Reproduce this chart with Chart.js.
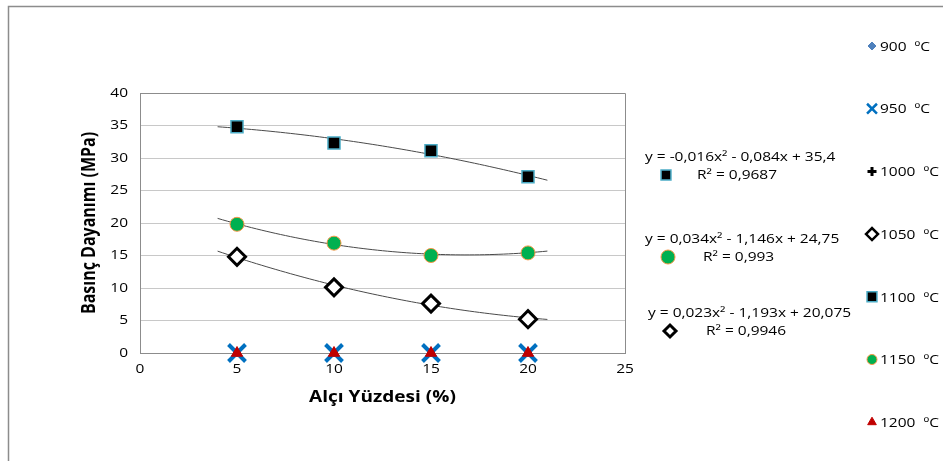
<!DOCTYPE html>
<html>
<head>
<meta charset="utf-8">
<script src="https://cdn.jsdelivr.net/npm/chart.js@4.4.1/dist/chart.umd.min.js"></script>
<style>
  html, body { margin: 0; padding: 0; background: #fff; }
  #wrap { width: 943px; height: 461px; }
</style>
</head>
<body>
<div id="wrap"><canvas id="c" width="943" height="461"></canvas></div>
<script>
// Gypsum percentage (x) and compressive strength (MPa) per firing temperature
const alciYuzdesi = [5, 10, 15, 20];
const seriesNames = ['900  ºC', '950  ºC', '1000  ºC', '1050  ºC', '1100  ºC', '1150  ºC', '1200  ºC'];
const s900  = [0, 0, 0, 0];
const s950  = [0, 0, 0, 0];
const s1000 = [0, 0, 0, 0];
const s1050 = [14.8, 10.1, 7.6, 5.2];
const s1100 = [34.8, 32.3, 31.1, 27.1];
const s1150 = [19.8, 16.9, 15.0, 15.4];
const s1200 = [0, 0, 0, 0];

// Polynomial trendline coefficients [a, b, c] for y = a x² + b x + c, and R²
const trend1100 = [-0.016, -0.084, 35.4];
const trend1150 = [0.034, -1.146, 24.75];
const trend1050 = [0.023, -1.193, 20.075];
const r2Values = [0.9687, 0.993, 0.9946];
const trendRange = [4, 21];

const xTicks = [0, 5, 10, 15, 20, 25];
const yTicks = [0, 5, 10, 15, 20, 25, 30, 35, 40];

const FONT = "'Open Sans', 'DejaVu Sans', sans-serif";

// All text is set in a horizontally widened face: scale glyphs about their
// anchor point in device space (so rotated titles widen across, not along).
const TEXT_STRETCH = 1.19;
const baseFillText = CanvasRenderingContext2D.prototype.fillText;
CanvasRenderingContext2D.prototype.fillText = function (text, x, y, maxWidth) {
  const m = this.getTransform();
  const px = m.a * x + m.c * y + m.e;
  this.save();
  this.setTransform(new DOMMatrix().translate(px, 0).scale(TEXT_STRETCH, 1).translate(-px, 0).multiply(m));
  if (maxWidth === undefined) baseFillText.call(this, text, x, y);
  else baseFillText.call(this, text, x, y, maxWidth);
  this.restore();
};

function pts(values) {
  return alciYuzdesi.map((x, i) => ({ x: x, y: values[i] }));
}
function trendPts(coef) {
  const out = [];
  for (let x = trendRange[0]; x <= trendRange[1] + 1e-9; x += 0.25) {
    out.push({ x: x, y: coef[0] * x * x + coef[1] * x + coef[2] });
  }
  return out;
}
function fmt(v) { return String(v).replace('.', ','); }
function eqText(c) {
  const term = (v, suffix, first) => {
    const s = fmt(Math.abs(v)) + suffix;
    if (first) return (v < 0 ? '-' : '') + s;
    return (v < 0 ? ' - ' : ' + ') + s;
  };
  return 'y = ' + term(c[0], 'x²', true) + term(c[1], 'x', false) + term(c[2], '', false);
}

const markerStyles = [
  { pointStyle: 'rectRot',  radius: 4,    bg: '#4f81bd', border: '#4f81bd', bw: 1 },
  { pointStyle: 'crossRot', radius: 12,   bg: '#0070c0', border: '#0070c0', bw: 4 },
  { pointStyle: 'cross',    radius: 2.5,  bg: '#000000', border: '#000000', bw: 2 },
  { pointStyle: 'rectRot',  radius: 8.5,  bg: '#ffffff', border: '#000000', bw: 3 },
  { pointStyle: 'rect',     radius: 8.5,  bg: '#000000', border: '#4bacc6', bw: 1.5 },
  { pointStyle: 'circle',   radius: 7,    bg: '#00b050', border: '#f79646', bw: 1 },
  { pointStyle: 'triangle', radius: 6.5,  bg: '#c00000', border: '#c00000', bw: 1 }
];
const seriesValues = [s900, s950, s1000, s1050, s1100, s1150, s1200];
// draw order: later temperatures on top at zero
const drawOrder = [6, 5, 4, 3, 2, 1, 0];

const datasets = seriesNames.map((name, i) => ({
  label: name,
  data: pts(seriesValues[i]),
  showLine: false,
  clip: false,
  pointStyle: markerStyles[i].pointStyle,
  pointRadius: markerStyles[i].radius,
  pointHoverRadius: markerStyles[i].radius,
  pointBackgroundColor: markerStyles[i].bg,
  pointBorderColor: markerStyles[i].border,
  pointBorderWidth: markerStyles[i].bw,
  order: drawOrder[i]
}));

[trend1100, trend1150, trend1050].forEach((coef) => {
  datasets.push({
    label: 'trend',
    data: trendPts(coef),
    showLine: true,
    borderColor: '#4a4a4a',
    borderWidth: 1,
    pointRadius: 0,
    tension: 0,
    order: 10
  });
});

// Frame around the whole chart and the plot area
const framePlugin = {
  id: 'frame',
  beforeDraw(chart) {
    const ctx = chart.ctx;
    ctx.save();
    ctx.strokeStyle = '#8c8c8c';
    ctx.lineWidth = 1.5;
    ctx.beginPath();
    ctx.moveTo(8.5, 461);
    ctx.lineTo(8.5, 6.5);
    ctx.lineTo(943, 6.5);
    ctx.stroke();
    ctx.restore();
  },
  beforeDatasetsDraw(chart) {
    const { ctx, chartArea: a } = chart;
    ctx.save();
    ctx.strokeStyle = '#8c8c8c';
    ctx.lineWidth = 1;
    ctx.beginPath();
    ctx.moveTo(a.left + 0.5, a.top + 0.5);
    ctx.lineTo(a.right + 0.5, a.top + 0.5);
    ctx.lineTo(a.right + 0.5, a.bottom);
    ctx.stroke();
    ctx.restore();
  }
};

// Trendline equations and the side legend
const labelsPlugin = {
  id: 'sideLabels',
  afterDraw(chart) {
    const ctx = chart.ctx;
    const drawPoint = Chart.helpers.drawPoint;
    ctx.save();
    ctx.fillStyle = '#000';
    ctx.font = '13px ' + FONT;
    ctx.textBaseline = 'middle';
    ctx.textAlign = 'left';

    const eqs = [
      { coef: trend1100, r2: r2Values[0], y: 157, x: 645, mk: 4, mx: 666, rx: 697 },
      { coef: trend1150, r2: r2Values[1], y: 239, x: 645, mk: 5, mx: 668, rx: 703 },
      { coef: trend1050, r2: r2Values[2], y: 313, x: 648, mk: 3, mx: 670, rx: 706 }
    ];
    eqs.forEach((e) => {
      ctx.fillStyle = '#000';
      ctx.fillText(eqText(e.coef), e.x, e.y);
      ctx.fillText('R² = ' + fmt(e.r2), e.rx, e.y + 18);
      const m = markerStyles[e.mk];
      ctx.fillStyle = m.bg;
      ctx.strokeStyle = m.border;
      ctx.lineWidth = m.bw;
      drawPoint(ctx, { pointStyle: m.pointStyle, radius: m.pointStyle === 'rectRot' ? 6 : 7, rotation: 0, borderWidth: m.bw }, e.mx, e.y + 18);
    });

    // legend column
    const legendTop = 46, legendStep = 62.7;
    const legendRadius = [4, 7, 4.5, 6, 7, 5, 5];
    const legendWidth = [1, 2.5, 3, 2.5, 1.5, 1, 1];
    seriesNames.forEach((name, i) => {
      const y = legendTop + i * legendStep;
      const m = markerStyles[i];
      ctx.fillStyle = m.bg;
      ctx.strokeStyle = m.border;
      ctx.lineWidth = legendWidth[i];
      drawPoint(ctx, { pointStyle: m.pointStyle, radius: legendRadius[i], rotation: 0, borderWidth: legendWidth[i] }, 872, y);
      ctx.fillStyle = '#000';
      ctx.fillText(name, 880, y + 1);
    });
    ctx.restore();
  }
};

new Chart(document.getElementById('c'), {
  type: 'scatter',
  data: { datasets: datasets },
  plugins: [framePlugin, labelsPlugin],
  options: {
    responsive: false,
    animation: false,
    layout: { padding: { left: 70, top: 93, right: 318, bottom: 48 } },
    plugins: { legend: { display: false }, tooltip: { enabled: false } },
    scales: {
      x: {
        type: 'linear',
        min: 0, max: 25,
        afterBuildTicks(scale) { scale.ticks = xTicks.map(v => ({ value: v })); },
        afterFit(scale) { scale.height = 60; },
        grid: { display: false, drawTicks: false },
        border: { display: true, color: '#8c8c8c', width: 1 },
        ticks: { padding: 8, color: '#000', font: { family: FONT, size: 13 } },
        title: { display: true, text: 'Alçı Yüzdesi (%)', color: '#000',
                 font: { family: FONT, size: 16, weight: 'bold' }, padding: { top: 0, bottom: 6 } }
      },
      y: {
        type: 'linear',
        min: 0, max: 40,
        afterBuildTicks(scale) { scale.ticks = yTicks.map(v => ({ value: v })); },
        afterFit(scale) { scale.width = 70; },
        grid: { color: '#c8c8c8', lineWidth: 1, drawTicks: false },
        border: { display: true, color: '#8c8c8c', width: 1 },
        ticks: { padding: 12, color: '#000', font: { family: FONT, size: 13 } },
        title: { display: true, text: 'Basınç Dayanımı (MPa)', color: '#000',
                 font: { family: FONT, size: 16, weight: 'bold' }, padding: { top: 10, bottom: 0 } }
      }
    }
  }
});
</script>
</body>
</html>
